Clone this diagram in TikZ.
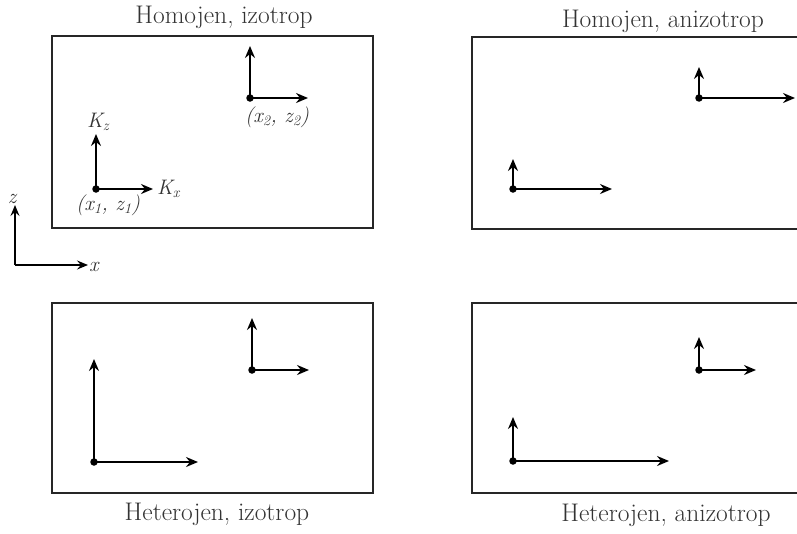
\documentclass[tikz,border=0pt]{standalone}
\usepackage{fontspec}
\usetikzlibrary{arrows.meta}
\begin{document}
\begin{tikzpicture}[x=1pt,y=-1pt,
  boxline/.style={line width=2pt,draw=black!85},
  vec/.style={line width=2.8pt,-{Stealth[length=12pt,width=10pt,inset=4pt]}},
  dot/.style={circle,fill=black,inner sep=0pt,minimum size=7.5pt},
  title/.style={font=\fontsize{25.5}{30}\selectfont,anchor=base,inner sep=0pt,text=black!80},
  lab/.style={font=\fontsize{21}{24}\selectfont\itshape,anchor=base,inner sep=0pt,text=black!80}]
\useasboundingbox (0,0) rectangle (797,533);
% boxes
\draw[boxline] (52,36) rectangle (373,228);
\draw[boxline] (799,37) -- (472,37) -- (472,229) -- (799,229);
\draw[boxline] (52,303) rectangle (373,493);
\draw[boxline] (799,303) -- (472,303) -- (472,493) -- (799,493);
% titles
\node[title] (t1) at (224,23) {Homojen, izotrop};
\node[title] (t2) at (663,27) {Homojen, anizotrop};
\node[title] (t3) at (217,520) {Heterojen, izotrop};
\node[title] (t4) at (666,521) {Heterojen, anizotrop};
% global axes
\coordinate (o) at (15,265);
\coordinate (oz) at (15,205);
\coordinate (ox) at (88,265);
\draw[line width=2.4pt,-{Stealth[length=11pt,width=9pt,inset=4pt]}] (o) -- (oz);
\draw[line width=2.4pt,-{Stealth[length=11pt,width=9pt,inset=4pt]}] (o) -- (ox);
\node[lab] (zl) at (12,203) {z};
\node[lab,anchor=base west] (xl) at (89,271) {x};
% panel 1
\node[dot] (p1) at (96,189) {};
\coordinate (p1z) at (96,134);
\coordinate (p1x) at (153,189);
\draw[vec] (p1.center) -- (p1z);
\draw[vec] (p1.center) -- (p1x);
\node[lab,anchor=base west] (kz) at (87,127) {K\textsubscript{z}};
\node[lab,anchor=base west] (kx) at (157,194) {K\textsubscript{x}};
\node[lab] (c1) at (108,210) {(x\textsubscript{1}, z\textsubscript{1})};
\node[dot] (p2) at (250,98) {};
\coordinate (p2z) at (250,46);
\coordinate (p2x) at (308,98);
\draw[vec] (p2.center) -- (p2z);
\draw[vec] (p2.center) -- (p2x);
\node[lab] (c2) at (277,122) {(x\textsubscript{2}, z\textsubscript{2})};
% panel 2
\node[dot] (q1) at (513,189) {};
\coordinate (q1z) at (513,159);
\coordinate (q1x) at (612,189);
\draw[vec] (q1.center) -- (q1z);
\draw[vec] (q1.center) -- (q1x);
\node[dot] (q2) at (699,98) {};
\coordinate (q2z) at (699,67);
\coordinate (q2x) at (795,98);
\draw[vec] (q2.center) -- (q2z);
\draw[vec] (q2.center) -- (q2x);
% panel 3
\node[dot] (r1) at (94,462) {};
\coordinate (r1z) at (94,359);
\coordinate (r1x) at (198,462);
\draw[vec] (r1.center) -- (r1z);
\draw[vec] (r1.center) -- (r1x);
\node[dot] (r2) at (252,370) {};
\coordinate (r2z) at (252,318);
\coordinate (r2x) at (309,370);
\draw[vec] (r2.center) -- (r2z);
\draw[vec] (r2.center) -- (r2x);
% panel 4
\node[dot] (s1) at (513,461) {};
\coordinate (s1z) at (513,417);
\coordinate (s1x) at (669,461);
\draw[vec] (s1.center) -- (s1z);
\draw[vec] (s1.center) -- (s1x);
\node[dot] (s2) at (699,370) {};
\coordinate (s2z) at (699,337);
\coordinate (s2x) at (756,370);
\draw[vec] (s2.center) -- (s2z);
\draw[vec] (s2.center) -- (s2x);
\end{tikzpicture}
\end{document}
